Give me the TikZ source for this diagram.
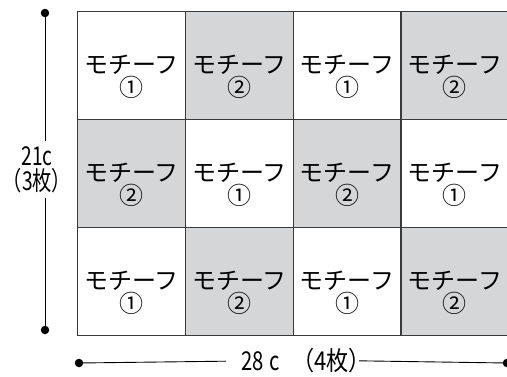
\documentclass[tikz,border=0pt]{standalone}
\usepackage{fontspec}
\setmainfont{Noto Sans CJK JP}
\newfontfamily\jp{Noto Sans CJK JP}
\definecolor{cellgray}{HTML}{D5D6D8}
\definecolor{edge}{HTML}{3A3A3A}
\begin{document}
\begin{tikzpicture}[x=1pt,y=-1pt,
  cellbox/.style={draw=edge,line width=1.4pt,minimum width=107.75pt,minimum height=108pt,inner sep=0pt,anchor=north west},
  wcell/.style={cellbox,fill=white},
  gcell/.style={cellbox,fill=cellgray},
  celltext/.style={font=\jp\fontsize{24}{23}\selectfont,align=center,inner sep=0pt,text=black},
  dimdot/.style={circle,fill=black,inner sep=0pt,minimum size=8.5pt},
  dimline/.style={line width=0.9pt,black},
  dimlabel/.style={font=\jp\fontsize{26}{30}\selectfont,align=center,inner sep=0pt}
]
\useasboundingbox (0,0) rectangle (507,376);
% cells
\foreach \r/\y in {1/11,2/119,3/227}{
  \foreach \c/\x in {1/77,2/184.75,3/292.5,4/400.25}{
    \pgfmathtruncatemacro{\parity}{mod(\r+\c,2)}
    \ifnum\parity=0
      \node[wcell] (c\r\c) at (\x,\y) {};
      \node[celltext] (t\r\c) at ([yshift=-11pt]c\r\c.center) {モチーフ\\①};
    \else
      \node[gcell] (c\r\c) at (\x,\y) {};
      \node[celltext] (t\r\c) at ([yshift=-11pt]c\r\c.center) {モチーフ\\②};
    \fi
  }
}
% vertical dimension
\node[dimdot] (vtop) at (45,13) {};
\node[dimdot] (vbot) at (45,330) {};
\node[dimlabel] (vlab) at (37,170) {\scalebox{0.74}[1]{21c}\\[-5pt]\scalebox{0.74}[1]{（3枚）}};
\draw[dimline,shorten >=6pt] (vtop.center) -- (vlab.north -| vtop.center);
\draw[dimline,shorten <=5pt] (vlab.south -| vbot.center) -- (vbot.center);
% horizontal dimension
\node[dimdot] (hleft) at (79,363) {};
\node[dimdot] (hright) at (507,363) {};
\node[dimlabel,anchor=west] (hlab) at (241,361) {\scalebox{0.78}[1]{28\hspace{8pt}c}\hspace{12pt}\scalebox{0.85}[1]{（4枚）}};
\draw[dimline,shorten >=15pt] (hleft.center) -- (hlab.west);
\draw[dimline,shorten <=-12pt] (hlab.east) -- (hright.center);
\end{tikzpicture}
\end{document}
